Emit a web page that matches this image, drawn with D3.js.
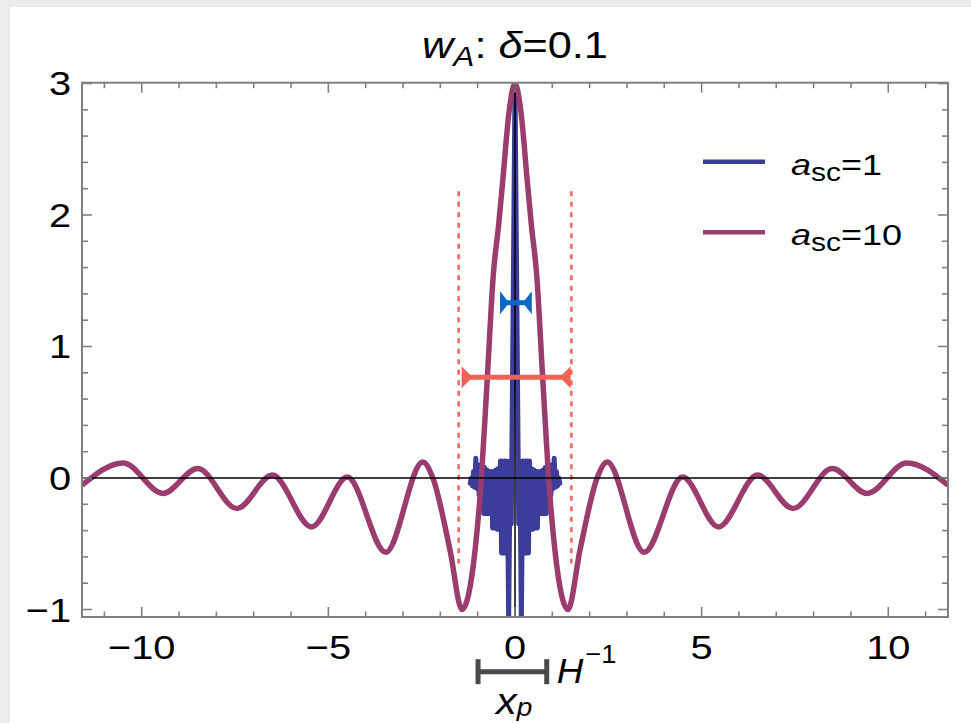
<!DOCTYPE html>
<html><head><meta charset="utf-8">
<script src="https://cdn.jsdelivr.net/npm/d3@7"></script>
<style>
html,body{margin:0;padding:0;background:#ececec;}
svg{display:block;}
text{font-family:"Liberation Sans", Arial, Helvetica, sans-serif;fill:#000;}
</style></head><body>
<svg id="chart" width="971" height="723"></svg>
<script>
// ---------- data ----------
const xMajorTicks = [-10, -5, 0, 5, 10];
const yMajorTicks = [-1, 0, 1, 2, 3];
const xMinorTicks = [-11,-9,-8,-7,-6,-4,-3,-2,-1,1,2,3,4,6,7,8,9,11];
const yMinorTicks = [-0.8,-0.6,-0.4,-0.2,0.2,0.4,0.6,0.8,1.2,1.4,1.6,1.8,2.2,2.4,2.6,2.8];
const xDomain = [-11.6, 11.6];
const yDomain = [-1.057, 3.006];
const seriesLabels = ["1", "10"];

// a_sc = 10 (purple)
const purpleX = [-11.6,-10.5,-9.43,-8.5,-7.45,-6.5,-5.45,-4.49,-3.46,-2.47,-2.2,-1.74,-1.42,-1.07,-0.90,-0.74,-0.58,-0.44,-0.325,-0.165,0,
                  0.165,0.325,0.44,0.58,0.74,0.90,1.07,1.42,1.74,2.2,2.47,3.46,4.49,5.45,6.5,7.45,8.5,9.43,10.5,11.6];
const purpleY = [-0.055,0.115,-0.117,0.072,-0.232,0.022,-0.372,0.007,-0.565,0.122,0.0,-0.55,-1.0,-0.55,0.0,0.77,1.55,1.92,2.27,2.77,3.0,
                  2.77,2.27,1.92,1.55,0.77,0.0,-0.55,-1.0,-0.55,0.0,0.122,-0.565,0.007,-0.372,0.022,-0.232,0.072,-0.117,0.115,-0.055];

// a_sc = 1 (blue)
const blueX = [-1.20,-1.17,-1.14,-1.11,-1.08,-1.05,-1.02,-0.99,-0.96,-0.93,-0.90,-0.87,-0.84,-0.81,-0.78,-0.75,-0.72,-0.69,-0.66,-0.63,
               -0.60,-0.57,-0.54,-0.51,-0.48,-0.45,-0.42,-0.39,-0.36,-0.33,-0.30,-0.27,-0.24,-0.21,-0.17,-0.13,-0.10,-0.05,0,
               0.05,0.10,0.13,0.17,0.21,0.24,0.27,0.30,0.33,0.36,0.39,0.42,0.45,0.48,0.51,0.54,0.57,0.60,0.63,0.66,0.69,
               0.72,0.75,0.78,0.81,0.84,0.87,0.90,0.93,0.96,0.99,1.02,1.05,1.08,1.11,1.14,1.17,1.20];
const blueY = [-0.04,0.00,-0.06,0.05,-0.07,0.15,-0.08,0.10,-0.13,0.06,-0.14,0.07,-0.27,0.08,-0.27,0.06,-0.27,0.05,-0.27,0.05,
               -0.38,0.05,-0.38,0.06,-0.39,0.07,-0.39,0.13,-0.57,0.13,-0.57,0.13,-0.57,0.13,-1.08,0.13,-0.35,1.30,3.0,
               1.30,-0.35,0.13,-1.08,0.13,-0.57,0.13,-0.57,0.13,-0.57,0.13,-0.39,0.07,-0.39,0.06,-0.38,0.05,-0.38,0.05,-0.27,0.05,
               -0.27,0.06,-0.27,0.08,-0.27,0.07,-0.14,0.06,-0.13,0.10,-0.08,0.15,-0.07,0.05,-0.06,0.00,-0.04];

// annotations (data coordinates)
const dashedX = [-1.51, 1.51];
const dashedYRange = [-0.65, 2.18];
const redWidthBar = [-1.43, 1.49, 0.766];
const blueWidthBar = [-0.40, 0.45, 1.333];
const xpBar = [-0.99, 0.85];

// ---------- drawing ----------
const svg = d3.select("#chart");
const L = 82, R = 948, T = 82.7, B = 617;
const SX = 1.17; // horizontal stretch of glyphs
const x = d3.scaleLinear().domain(xDomain).range([L, R]);
const y = d3.scaleLinear().domain(yDomain).range([B, T]);

function txt(parent, X, Y, anchor, size, sx) {
  return parent.append("text")
    .attr("transform", `translate(${X},${Y}) scale(${sx || SX},1)`)
    .attr("text-anchor", anchor).attr("font-size", size);
}

svg.append("rect").attr("x", 10).attr("y", 7).attr("width", 961).attr("height", 716).attr("fill", "#fff");

svg.append("clipPath").attr("id", "clip").append("rect")
  .attr("x", L).attr("y", T).attr("width", R - L).attr("height", B - T);

const plot = svg.append("g").attr("clip-path", "url(#clip)");

// dashed lines
dashedX.forEach(d => {
  plot.append("line").attr("x1", x(d)).attr("x2", x(d))
    .attr("y1", y(dashedYRange[1])).attr("y2", y(dashedYRange[0]))
    .attr("stroke", "#f06a60").attr("stroke-width", 2.6).attr("stroke-dasharray", "5,5.5");
});

const blueColor = "#3c3c9a", purpleColor = "#9b3c6f";

plot.append("path").datum(blueX.map((v, i) => [v, blueY[i]]))
  .attr("d", d3.line().x(d => x(d[0])).y(d => y(d[1])).curve(d3.curveLinear))
  .attr("fill", "none").attr("stroke", blueColor).attr("stroke-width", 5)
  .attr("stroke-linejoin", "round").attr("stroke-linecap", "round");

plot.append("path").datum(purpleX.map((v, i) => [v, purpleY[i]]))
  .attr("d", d3.line().x(d => x(d[0])).y(d => y(d[1])).curve(d3.curveMonotoneX))
  .attr("fill", "none").attr("stroke", purpleColor).attr("stroke-width", 5.5)
  .attr("stroke-linejoin", "round");

// axes lines
plot.append("line").attr("x1", L).attr("x2", R).attr("y1", y(0)).attr("y2", y(0))
  .attr("stroke", "#000").attr("stroke-width", 1.5);
plot.append("line").attr("x1", x(0)).attr("x2", x(0)).attr("y1", T).attr("y2", B)
  .attr("stroke", "#000").attr("stroke-width", 1.5);

// width markers
function widthBar(spec, color, w, h) {
  const [a, b, yy] = spec;
  const X0 = x(a), X1 = x(b), Y = y(yy);
  svg.append("line").attr("x1", X0 + 2).attr("x2", X1 - 2).attr("y1", Y).attr("y2", Y)
    .attr("stroke", color).attr("stroke-width", 5);
  svg.append("path").attr("d", `M${X0},${Y - h/2}L${X0},${Y + h/2}L${X0 + w},${Y}Z`).attr("fill", color);
  svg.append("path").attr("d", `M${X1},${Y - h/2}L${X1},${Y + h/2}L${X1 - w},${Y}Z`).attr("fill", color);
}
widthBar(redWidthBar, "#ef6256", 11, 22);
widthBar(blueWidthBar, "#0b69c4", 9, 23);

// frame & ticks
const frameColor = "#808080";
svg.append("rect").attr("x", L).attr("y", T).attr("width", R - L).attr("height", B - T)
  .attr("fill", "none").attr("stroke", frameColor).attr("stroke-width", 2);
const tk = svg.append("g").attr("stroke", frameColor).attr("stroke-width", 1.6);
function xt(v, len) {
  tk.append("line").attr("x1", x(v)).attr("x2", x(v)).attr("y1", B).attr("y2", B - len);
  tk.append("line").attr("x1", x(v)).attr("x2", x(v)).attr("y1", T).attr("y2", T + len);
}
function yt(v, len) {
  tk.append("line").attr("x1", L).attr("x2", L + len).attr("y1", y(v)).attr("y2", y(v));
  tk.append("line").attr("x1", R).attr("x2", R - len).attr("y1", y(v)).attr("y2", y(v));
}
xMajorTicks.forEach(v => xt(v, 10));
xMinorTicks.forEach(v => xt(v, 5.5));
yMajorTicks.forEach(v => yt(v, 10));
yMinorTicks.forEach(v => yt(v, 6));

const fmt = v => (v < 0 ? "\u2212" + Math.abs(v) : String(v));
const gx = svg.append("g");
xMajorTicks.forEach(v => txt(gx, x(v), 659, "middle", 34).text(fmt(v)));
const gy = svg.append("g");
yMajorTicks.forEach(v => txt(gy, 71, y(v) + 12, "end", 34).text(fmt(v)));

// title
const title = txt(svg, 515, 58, "middle", 37);
title.append("tspan").attr("font-style", "italic").text("w");
title.append("tspan").attr("font-style", "italic").attr("font-size", 27).attr("dy", 8).text("A");
title.append("tspan").attr("dy", -8).text(": ");
title.append("tspan").attr("font-style", "italic").text("\u03b4");
title.append("tspan").text("=0.1");

// legend
const legendColors = [blueColor, purpleColor];
const legY = [161.7, 232.3];
seriesLabels.forEach((s, i) => {
  svg.append("line").attr("x1", 703).attr("x2", 765).attr("y1", legY[i]).attr("y2", legY[i])
    .attr("stroke", legendColors[i]).attr("stroke-width", 4.5);
  const t = txt(svg, 791, legY[i] + 13, "start", 30, 1.2);
  t.append("tspan").attr("font-style", "italic").text("a");
  t.append("tspan").attr("font-size", 25).attr("dy", 6).text("sc");
  t.append("tspan").attr("dy", -6).text("=" + s);
});

// x_p scale bar
const sbY = 671.7, sbC = "#4a4a4a";
svg.append("line").attr("x1", x(xpBar[0])).attr("x2", x(xpBar[1])).attr("y1", sbY).attr("y2", sbY)
  .attr("stroke", sbC).attr("stroke-width", 5);
[xpBar[0], xpBar[1]].forEach(v => {
  svg.append("line").attr("x1", x(v)).attr("x2", x(v)).attr("y1", sbY - 12.5).attr("y2", sbY + 12.5)
    .attr("stroke", sbC).attr("stroke-width", 5);
});
const ht = txt(svg, x(xpBar[1]) + 10, 683, "start", 35, 1.05)
  .attr("font-family", "'Liberation Serif', 'Times New Roman', serif");
ht.append("tspan").attr("font-style", "italic").text("H");
ht.append("tspan").attr("font-size", 26).attr("dy", -20).attr("dx", 2).text("\u22121");

const xp = txt(svg, 496, 714, "start", 37, 1.12);
xp.append("tspan").attr("font-style", "italic").text("x");
xp.append("tspan").attr("font-style", "italic").attr("font-size", 25).attr("dy", 2).text("p");
</script>
</body></html>
